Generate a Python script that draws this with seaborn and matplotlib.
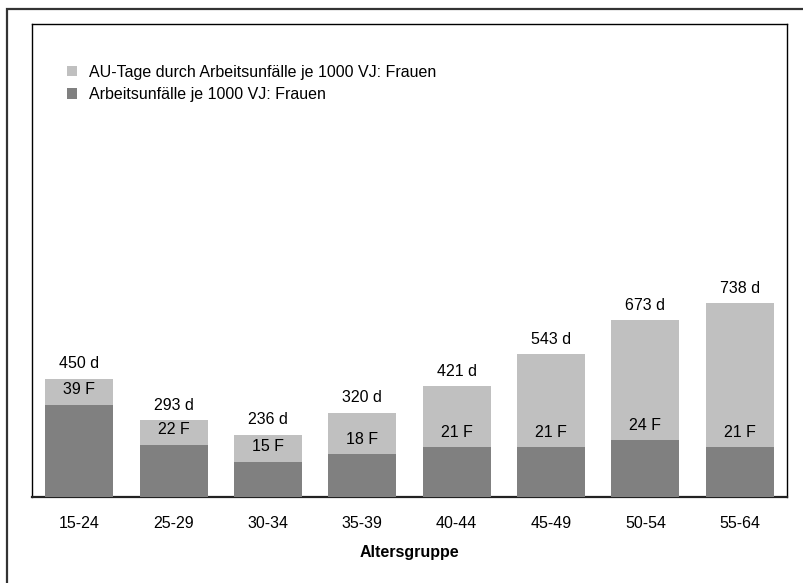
import matplotlib
matplotlib.use('Agg')
import matplotlib.pyplot as plt
import seaborn as sns
import pandas as pd
from matplotlib.patches import Patch, Rectangle

# ===== data =====
altersgruppen = ['15-24', '25-29', '30-34', '35-39', '40-44', '45-49', '50-54', '55-64']
au_tage = [450, 293, 236, 320, 421, 543, 673, 738]       # AU-Tage je 1000 VJ
unfaelle = [39, 22, 15, 18, 21, 21, 24, 21]               # Arbeitsunfälle je 1000 VJ

label_tage = 'AU-Tage durch Arbeitsunfälle je 1000 VJ: Frauen'
label_unf = 'Arbeitsunfälle je 1000 VJ: Frauen'

hell = '#C0C0C0'
dunkel = '#808080'

df = pd.DataFrame({'gruppe': altersgruppen, 'tage': au_tage, 'unfaelle': unfaelle})

# ===== style =====
sns.set_style('white')
plt.rcParams['font.family'] = ['Liberation Sans', 'DejaVu Sans']
plt.rcParams['text.color'] = 'black'
plt.rcParams['axes.labelcolor'] = 'black'
plt.rcParams['xtick.color'] = 'black'
fs = 11.5

W, H = 804, 583
fig = plt.figure(figsize=(W / 100, H / 100), dpi=100)
ax = fig.add_axes([32 / W, 1 - 497 / H, 755 / W, 473 / H])

# light bars: AU-Tage (primary axis)
sns.barplot(data=df, x='gruppe', y='tage', color=hell, saturation=1,
            width=0.72, linewidth=0, edgecolor='none', ax=ax)
ax.set_ylim(0, 1800)

# dark bars: Unfälle (secondary axis, drawn on top)
ax2 = ax.twinx()
sns.barplot(data=df, x='gruppe', y='unfaelle', color=dunkel, saturation=1,
            width=0.72, linewidth=0, edgecolor='none', ax=ax2)
ax2.set_ylim(0, 200)

for a in (ax, ax2):
    a.set_xlim(-0.5, len(altersgruppen) - 0.5)
    a.set_yticks([])
    a.set_ylabel('')
ax2.set_xlabel('')
for s in ax2.spines.values():
    s.set_visible(False)
for s in ax.spines.values():
    s.set_visible(True)
    s.set_color('black')
    s.set_linewidth(1)
ax.spines['bottom'].set_linewidth(1.6)
ax.spines['bottom'].set_color('#222222')

ax.tick_params(axis='x', length=0, pad=14, labelsize=fs)
ax.set_xlabel('Altersgruppe', fontweight='bold', fontsize=fs, labelpad=10)

# value labels
for i, (t, u) in enumerate(zip(au_tage, unfaelle)):
    ax.annotate(f'{t} d', (i, t), xytext=(0, 10.8), textcoords='offset points',
                ha='center', va='center', fontsize=fs)
    ax2.annotate(f'{u} F', (i, u), xytext=(0, 10.8), textcoords='offset points',
                 ha='center', va='center', fontsize=fs)

# legend
handles = [Patch(facecolor=hell, edgecolor='none'), Patch(facecolor=dunkel, edgecolor='none')]
ax2.legend(handles, [label_tage, label_unf], loc='upper left',
           bbox_to_anchor=(0.046, 0.914), frameon=False, borderpad=0,
           borderaxespad=0, handlelength=0.65, handleheight=0.65,
           handletextpad=0.75, labelspacing=0.45, fontsize=fs)

# outer border (clipped on right and bottom)
fig.patches.append(Rectangle((7 / W, -0.1), 1.2, 1.1 - 9 / H, transform=fig.transFigure,
                             fill=False, edgecolor='#333333', linewidth=1.6))

fig.savefig('out.png', dpi=100)
